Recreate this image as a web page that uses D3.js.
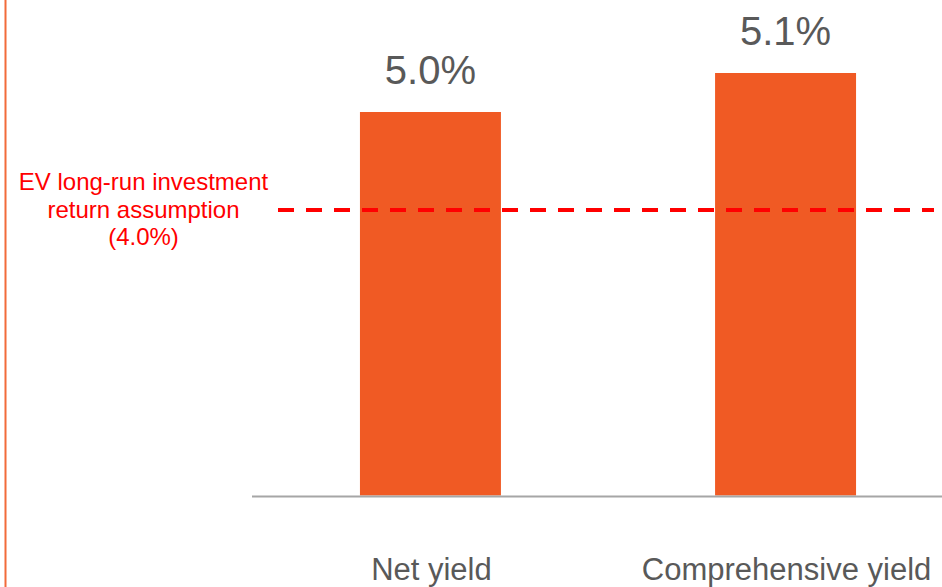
<!DOCTYPE html>
<html>
<head>
<meta charset="utf-8">
<script src="https://cdn.jsdelivr.net/npm/d3@7"></script>
<style>
  html, body { margin: 0; padding: 0; background: #fff; }
  svg { display: block; font-family: "Liberation Sans", Arial, sans-serif; }
</style>
</head>
<body>
<svg id="chart" width="942" height="587"></svg>
<script>
// ---- data ----
const categories = ["Net yield", "Comprehensive yield"];
const values = [5.0, 5.1];
const valueLabels = ["5.0%", "5.1%"];
const refValue = 4.0;
const refLabelLines = ["EV long-run investment", "return assumption", "(4.0%)"];

// ---- layout ----
const W = 942, H = 587;
const svg = d3.select("#chart");

const x = d3.scaleBand()
  .domain(categories)
  .range([252, 964])
  .paddingInner(0.603)
  .paddingOuter(0.304);

// schematic (not-to-scale) value axis, as in the original slide
const y = d3.scaleLinear()
  .domain([0, refValue, values[0], values[1]])
  .range([495.5, 210, 112, 73]);

// left orange rule
svg.append("line")
  .attr("x1", 5.5).attr("x2", 5.5)
  .attr("y1", 0).attr("y2", H)
  .attr("stroke", "#F26B3A").attr("stroke-width", 2);

// bars
svg.selectAll("rect.bar")
  .data(categories)
  .join("rect")
  .attr("class", "bar")
  .attr("x", d => x(d))
  .attr("width", x.bandwidth())
  .attr("y", (d, i) => y(values[i]))
  .attr("height", (d, i) => y(0) - y(values[i]))
  .attr("fill", "#F05A24");

// baseline
svg.append("line")
  .attr("x1", 252).attr("x2", W)
  .attr("y1", y(0) + 1).attr("y2", y(0) + 1)
  .attr("stroke", "#A6A6A6").attr("stroke-width", 2);

// value labels
svg.selectAll("text.val")
  .data(categories)
  .join("text")
  .attr("class", "val")
  .attr("x", d => x(d) + x.bandwidth() / 2)
  .attr("y", (d, i) => y(values[i]) - 28)
  .attr("text-anchor", "middle")
  .attr("font-size", 40)
  .attr("fill", "#595959")
  .text((d, i) => valueLabels[i]);

// category labels
svg.selectAll("text.cat")
  .data(categories)
  .join("text")
  .attr("class", "cat")
  .attr("x", d => x(d) + x.bandwidth() / 2 + 1)
  .attr("y", 580)
  .attr("text-anchor", "middle")
  .attr("font-size", 31)
  .attr("fill", "#595959")
  .text(d => d);

// reference dashed line
svg.append("line")
  .attr("x1", 278).attr("x2", 934)
  .attr("y1", y(refValue)).attr("y2", y(refValue))
  .attr("stroke", "#FF0000").attr("stroke-width", 4)
  .attr("stroke-dasharray", "16 12");

// reference label
const refText = svg.append("text")
  .attr("x", 143.5)
  .attr("y", 190)
  .attr("text-anchor", "middle")
  .attr("font-size", 24)
  .attr("fill", "#FF0000");
refText.selectAll("tspan")
  .data(refLabelLines)
  .join("tspan")
  .attr("x", 143.5)
  .attr("dy", (d, i) => i === 0 ? 0 : 27.5)
  .text(d => d);
</script>
</body>
</html>
